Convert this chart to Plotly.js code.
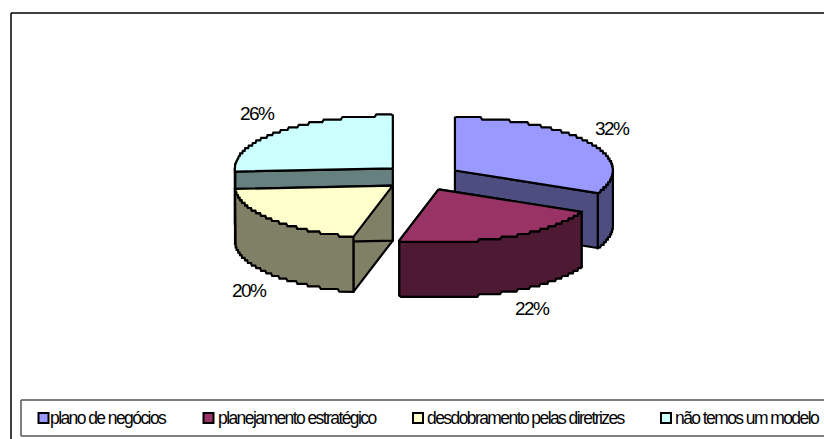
<!DOCTYPE html>
<html>
<head>
<meta charset="utf-8">
<script src="https://cdn.plot.ly/plotly-3.0.1.min.js"></script>
<style>
html,body{margin:0;padding:0;background:#fff;overflow:hidden}
#chart{width:824px;height:439px}
.annotation-text{letter-spacing:-1.58px}
</style>
</head>
<body>
<div id="chart"></div>
<script>
// --- data ---
var categories = ['plano de negócios', 'planejamento estratégico', 'desdobramento pelas diretrizes', 'não temos um modelo'];
var percentages = [32, 22, 20, 26];
var topColors = ['#9999FF', '#993366', '#FFFFCC', '#CCFFFF'];
var sideColors = ['#4D4D80', '#4D1933', '#808066', '#668080'];
var explodeBy = [39, 39, 38, 40];

// --- pie geometry (angles clockwise from north, derived from the values) ---
var W = 824, H = 439;
var CX = 422, CY = 177.5, RX = 158, TILT = 0.335, DEPTH = 55;
var STEP_Y = 2.6;   // stair-stepped arc look of the original
var total = percentages.reduce(function (a, b) { return a + b; }, 0);

var starts = [], acc = 0;
percentages.forEach(function (v) { starts.push(acc); acc += v / total * 360; });

function rad(d) { return d * Math.PI / 180; }

function origin(i) {
  var mid = rad(starts[i] + percentages[i] / total * 180);
  return [CX + explodeBy[i] * Math.sin(mid), CY - explodeBy[i] * TILT * Math.cos(mid)];
}
function rim(o, deg) {
  return [o[0] + RX * Math.sin(rad(deg)), o[1] - RX * TILT * Math.cos(rad(deg))];
}
function arc(o, a, b) {
  var pts = [], n = Math.max(2, Math.ceil(Math.abs(b - a) * 1.5));
  for (var k = 0; k <= n; k++) {
    var p = rim(o, a + (b - a) * k / n);
    var end = (k === 0 || k === n);
    pts.push([p[0], end ? p[1] : Math.round(p[1] / STEP_Y) * STEP_Y]);
  }
  return pts;
}
function down(pts) { return pts.map(function (p) { return [p[0], p[1] + DEPTH]; }); }

function poly(pts, fill, name) {
  var c = pts.concat([pts[0]]);
  return {
    type: 'scatter', mode: 'lines', hoverinfo: 'skip', showlegend: false, name: name,
    x: c.map(function (p) { return p[0]; }),
    y: c.map(function (p) { return p[1]; }),
    fill: 'toself', fillcolor: fill,
    line: { color: '#000000', width: 2.2, shape: 'linear' }
  };
}

function sliceTraces(i) {
  var o = origin(i), a = starts[i], b = a + percentages[i] / total * 360, out = [];
  var name = categories[i];
  // radial cut faces
  [a, b].forEach(function (d) {
    var r = rim(o, d);
    if (Math.abs(r[0] - o[0]) < 0.5) return;   // edge-on face: nothing to draw
    out.push(poly([o, r, [r[0], r[1] + DEPTH], [o[0], o[1] + DEPTH]], sideColors[i], name));
  });
  // outer wall: the part of the rim that faces the viewer
  var wa = Math.max(a, 90), wb = Math.min(b, 270);
  if (wb > wa) {
    var top = arc(o, wa, wb);
    out.push(poly(top.concat(down(top).reverse()), sideColors[i], name));
  }
  // top face
  out.push(poly([o].concat(arc(o, a, b)), topColors[i], name));
  return out;
}

var traces = [];
[3, 2, 0, 1].forEach(function (i) { traces = traces.concat(sliceTraces(i)); });

// --- legend swatches ---
var swatchX = [43.5, 208.5, 418, 666];
var legendTextX = [50, 218, 427, 675];
var legendY = 418;
traces.push({
  type: 'scatter', mode: 'markers', hoverinfo: 'skip', showlegend: false,
  x: swatchX, y: swatchX.map(function () { return legendY; }),
  marker: { symbol: 'square', size: 10, color: topColors, line: { color: '#000000', width: 2 } }
});

// --- labels ---
var labelX = [612.5, 532, 249, 257];
var labelY = [128, 308, 290, 113];
var annotations = percentages.map(function (v, i) {
  return {
    x: labelX[i], y: labelY[i], xref: 'x', yref: 'y', text: v + '%', showarrow: false,
    xanchor: 'center', yanchor: 'middle',
    font: { family: 'Liberation Sans, Arial, sans-serif', size: 19, color: '#000000' }
  };
}).concat(categories.map(function (c, i) {
  return {
    x: legendTextX[i], y: legendY, xref: 'x', yref: 'y', text: c, showarrow: false,
    xanchor: 'left', yanchor: 'middle', xshift: -2,
    font: { family: 'Liberation Sans, Arial, sans-serif', size: 17.5, color: '#000000' }
  };
}));

// --- frames ---
var shapes = [
  { type: 'line', x0: 11, x1: W, y0: 13, y1: 13, line: { color: '#000000', width: 1.5 } },
  { type: 'line', x0: 11, x1: 11, y0: 13, y1: H, line: { color: '#000000', width: 1.5 } },
  { type: 'line', x0: 21, x1: W, y0: 400, y1: 400, line: { color: '#555555', width: 1.5 } },
  { type: 'line', x0: 21, x1: 21, y0: 400, y1: 436, line: { color: '#555555', width: 1.5 } },
  { type: 'line', x0: 21, x1: W, y0: 436, y1: 436, line: { color: '#555555', width: 1.5 } }
];

var axis = { visible: false, fixedrange: true, showgrid: false, zeroline: false };
Plotly.newPlot('chart', traces, {
  width: W, height: H, margin: { l: 0, r: 0, t: 0, b: 0 },
  paper_bgcolor: '#ffffff', plot_bgcolor: '#ffffff', showlegend: false,
  xaxis: Object.assign({ range: [0, W] }, axis),
  yaxis: Object.assign({ range: [H, 0] }, axis),
  annotations: annotations, shapes: shapes
}, { displayModeBar: false, staticPlot: true });
</script>
</body>
</html>
